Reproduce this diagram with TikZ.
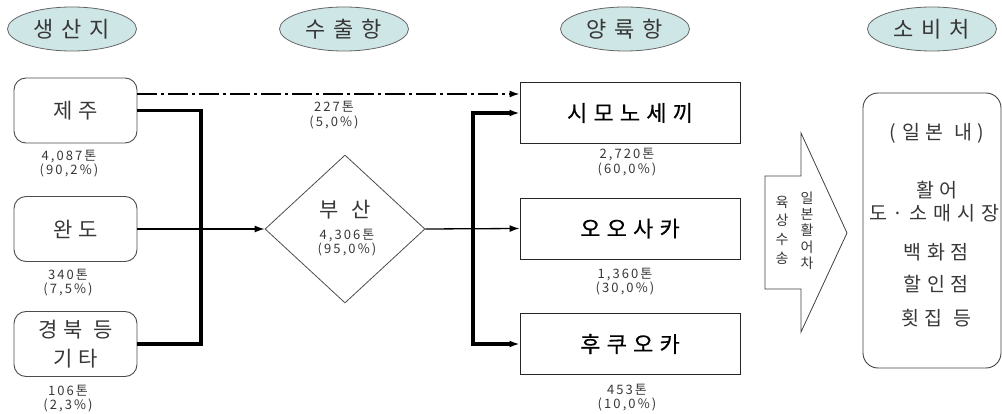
\documentclass[tikz,border=0pt]{standalone}
\usepackage{fontspec}
\setmainfont{Noto Sans CJK KR}
\newfontfamily\krT[LetterSpace=35]{Noto Sans CJK KR}
\newfontfamily\krB[LetterSpace=28]{Noto Sans CJK KR}
\newfontfamily\krP[LetterSpace=28,FakeBold=0.4]{Noto Sans CJK KR}
\newfontfamily\krN[LetterSpace=16]{Noto Sans CJK KR}
\newfontfamily\krC[LetterSpace=30]{Noto Sans CJK KR}
\usetikzlibrary{shapes.geometric,arrows.meta}
\definecolor{tealfill}{RGB}{206,230,230}
\definecolor{txt}{RGB}{55,55,55}
\begin{document}
\begin{tikzpicture}[x=1pt,y=-1pt,
  title/.style={ellipse,draw=black!60,fill=tealfill,line width=0.8pt,minimum width=129pt,minimum height=44pt,inner sep=0pt,font=\krT\fontsize{22}{26}\selectfont,text=txt},
  srcbox/.style={rounded corners=12pt,draw=black!70,line width=0.9pt,minimum width=123pt,minimum height=65pt,inner sep=0pt,font=\krB\fontsize{21}{29}\selectfont,text=txt,align=center},
  portbox/.style={draw=black!85,line width=0.9pt,minimum width=220pt,minimum height=61pt,inner sep=0pt,font=\krP\fontsize{22}{26}\selectfont,text=black},
  num/.style={font=\krN\fontsize{13}{14.5}\selectfont,text=txt,align=center,inner sep=0pt},
  ctext/.style={font=\krC\fontsize{19.5}{22}\selectfont,text=txt,inner sep=0pt},
  vtext/.style={font=\fontsize{14}{16.3}\selectfont,text=txt,align=center,inner sep=0pt},
  thinarrow/.style={line width=1.3pt,-{Latex[length=10pt,width=7pt]}},
  thickln/.style={line width=3.2pt,line join=miter},
  dashdotln/.style={line width=1.5pt,dash pattern=on 20pt off 4pt on 3pt off 4pt,-{Latex[length=10pt,width=7pt]}}
]
\useasboundingbox (0,0) rectangle (1002,414);

% titles
\node[title] (t1) at (72,29) {생산지};
\node[title] (t2) at (344,29) {수출항};
\node[title] (t3) at (625,29) {양륙항};
\node[title] (t4) at (932,29) {소비처};

% sources
\node[srcbox] (jeju) at (75.5,110.5) {제주};
\node[srcbox] (wando) at (75.5,229) {완도};
\node[srcbox] (gyeong) at (75.5,344) {경북 등\\기타};
\node[num] (n1) at (69,163.5) {4,087톤\\(90,2\%\,)};
\node[num] (n2) at (68,282.5) {340톤\\(7,5\%\,)};
\node[num] (n3) at (68,398.5) {106톤\\(2,3\%\,)};

% busan
\node[diamond,draw=black!70,line width=0.8pt,minimum width=160pt,minimum height=148pt,inner sep=0pt] (busan) at (345,229) {};
\node[font=\krT\fontsize{21}{24}\selectfont,text=txt,inner sep=0pt] (busanlbl) at (345,210) {부 산};
\node[num] (nb) at (347,242.5) {4,306톤\\(95,0\%\,)};
\node[num] (nd) at (334,115) {227톤\\(5,0\%\,)};

% ports
\node[portbox] (shimo) at (630,113) {시모노세끼};
\node[portbox] (osaka) at (630,228.5) {오오사카};
\node[portbox] (fuku) at (630,344) {후쿠오카};
\node[num] (n4) at (627,162) {2,720톤\\(60,0\%\,)};
\node[num] (n5) at (625,281.5) {1,360톤\\(30,0\%\,)};
\node[num] (n6) at (627,397.5) {453톤\\(10,0\%\,)};

% block arrow
\draw[draw=black!75,line width=0.8pt,line join=miter] (765,176) -- (801,176) -- (801,133) -- (847,233) -- (801,332) -- (801,289) -- (765,289) -- cycle;
\node[vtext,font=\fontsize{14}{18.7}\selectfont] (v1) at (782,230) {육\\상\\수\\송};
\node[vtext] (v2) at (807,230.5) {일\\본\\활\\어\\차};

% consumer
\node[draw=black!75,line width=0.9pt,rounded corners=15pt,minimum width=138pt,minimum height=275pt,inner sep=0pt] (cons) at (932,230.5) {};
\node[ctext] (c1) at (937,133) {(일본 내)};
\node[ctext] (c2) at (937,190) {활어};
\node[ctext] (c3) at (934,213) {도·소매시장};
\node[ctext] (c4) at (936,252) {백화점};
\node[ctext] (c5) at (936,284) {할인점};
\node[ctext] (c6) at (936,318) {횟집 등};

% connectors
\coordinate (bus1) at (201,0);
\coordinate (bus2) at (473,0);
\draw[thickln] (jeju.east) -- (jeju.east -| bus1) -- (gyeong.east -| bus1) -- (gyeong.east);
\draw[thinarrow] (wando.east) -- (busan.west);
\draw[dashdotln] ([yshift=16.5pt]jeju.east) -- ([yshift=19pt]shimo.west);
\draw[thinarrow] (busan.east) -- (osaka.west);
\draw[thickln,{Latex[length=10pt,width=7pt]}-{Latex[length=10pt,width=7pt]}] (shimo.west) -- (bus2 |- shimo.west) -- (bus2 |- fuku.west) -- (fuku.west);
\end{tikzpicture}
\end{document}
